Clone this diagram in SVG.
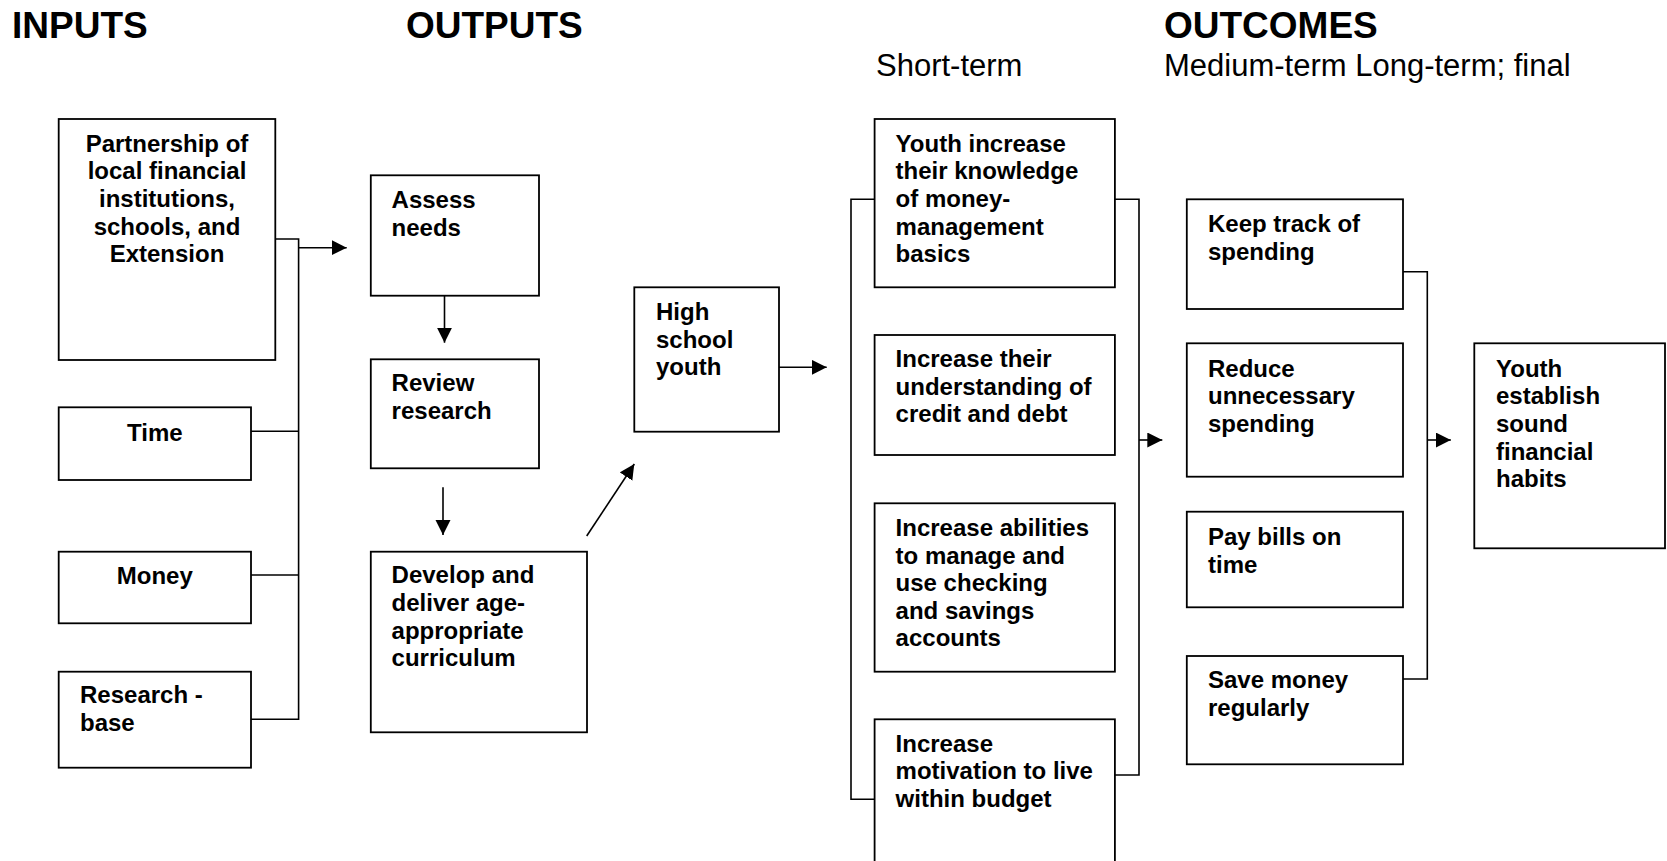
<svg xmlns="http://www.w3.org/2000/svg" width="1667" height="861" viewBox="0 0 1667 861">
<style>
.box{fill:#fff;stroke:#000;stroke-width:1.8}
.t{font-family:"Liberation Sans",Arial,sans-serif;font-weight:bold;font-size:24px;fill:#000}
.h{font-family:"Liberation Sans",Arial,sans-serif;font-weight:bold;font-size:37px;fill:#000}
.s{font-family:"Liberation Sans",Arial,sans-serif;font-size:31px;fill:#000}
.c{fill:none;stroke:#000;stroke-width:1.6}
.mid{text-anchor:middle}
</style>
<defs>
<marker id="ah" markerUnits="userSpaceOnUse" markerWidth="16" markerHeight="16" refX="15" refY="7.5" orient="auto">
<path d="M0,0 L15,7.5 L0,15 Z" fill="#000"/>
</marker>
</defs>
<rect width="1667" height="861" fill="#fff"/>

<g id="headers">
<text class="h" x="12" y="38">INPUTS</text>
<text class="h" x="406" y="38">OUTPUTS</text>
<text class="h" x="1164" y="38">OUTCOMES</text>
<text class="s" x="876" y="76">Short-term</text>
<text class="s" x="1164" y="76">Medium-term Long-term; final</text>
</g>

<g id="connectors">
<path class="c" d="M275.3,239 H298.6 V719.3 H251"/>
<path class="c" d="M251,431.3 H298.6"/>
<path class="c" d="M251,575 H298.6"/>
<path class="c" d="M298.6,247.7 H346.7" marker-end="url(#ah)"/>
<path class="c" d="M444.5,295.7 V342.7" marker-end="url(#ah)"/>
<path class="c" d="M443,487.3 V535" marker-end="url(#ah)"/>
<path class="c" d="M586.7,536 L634.3,464" marker-end="url(#ah)"/>
<path class="c" d="M779,367.3 H826.7" marker-end="url(#ah)"/>
<path class="c" d="M874.6,199.3 H851 V799.3 H875"/>
<path class="c" d="M1114.9,199.3 H1139 V775 H1115"/>
<path class="c" d="M1139,440 H1162.3" marker-end="url(#ah)"/>
<path class="c" d="M1403,271.7 H1427.3 V679 H1403"/>
<path class="c" d="M1427.3,440 H1450.8" marker-end="url(#ah)"/>
</g>

<g id="n-partnership">
<rect class="box" x="58.7" y="119" width="216.6" height="241"/>
<text class="t mid" x="167" y="151.7">Partnership of</text>
<text class="t mid" x="167" y="179.3">local financial</text>
<text class="t mid" x="167" y="206.9">institutions,</text>
<text class="t mid" x="167" y="234.5">schools, and</text>
<text class="t mid" x="167" y="262.1">Extension</text>
</g>
<g id="n-time">
<rect class="box" x="58.7" y="407.3" width="192.3" height="72.7"/>
<text class="t mid" x="154.8" y="440.7">Time</text>
</g>
<g id="n-money">
<rect class="box" x="58.7" y="551.7" width="192.3" height="71.6"/>
<text class="t mid" x="154.8" y="584">Money</text>
</g>
<g id="n-research-base">
<rect class="box" x="58.7" y="671.7" width="192.3" height="96"/>
<text class="t" x="80" y="703.3">Research -</text>
<text class="t" x="80" y="731.3">base</text>
</g>

<g id="n-assess">
<rect class="box" x="370.8" y="175.3" width="168.2" height="120.4"/>
<text class="t" x="391.6" y="208.3">Assess</text>
<text class="t" x="391.6" y="236">needs</text>
</g>
<g id="n-review">
<rect class="box" x="370.8" y="359.3" width="168.2" height="109"/>
<text class="t" x="391.6" y="390.7">Review</text>
<text class="t" x="391.6" y="418.5">research</text>
</g>
<g id="n-develop">
<rect class="box" x="370.8" y="551.7" width="216.2" height="180.6"/>
<text class="t" x="391.6" y="583.3">Develop and</text>
<text class="t" x="391.6" y="611">deliver age-</text>
<text class="t" x="391.6" y="638.7">appropriate</text>
<text class="t" x="391.6" y="666.4">curriculum</text>
</g>

<g id="n-highschool">
<rect class="box" x="634.3" y="287.3" width="144.7" height="144.4"/>
<text class="t" x="656" y="320">High</text>
<text class="t" x="656" y="347.6">school</text>
<text class="t" x="656" y="375.2">youth</text>
</g>

<g id="n-knowledge">
<rect class="box" x="874.6" y="119" width="240.3" height="168.3"/>
<text class="t" x="895.6" y="151.7">Youth increase</text>
<text class="t" x="895.6" y="179.3">their knowledge</text>
<text class="t" x="895.6" y="206.9">of money-</text>
<text class="t" x="895.6" y="234.5">management</text>
<text class="t" x="895.6" y="262.1">basics</text>
</g>
<g id="n-credit">
<rect class="box" x="874.6" y="335" width="240.3" height="120"/>
<text class="t" x="895.6" y="367">Increase their</text>
<text class="t" x="895.6" y="394.6">understanding of</text>
<text class="t" x="895.6" y="422.2">credit and debt</text>
</g>
<g id="n-accounts">
<rect class="box" x="874.6" y="503.3" width="240.3" height="168.4"/>
<text class="t" x="895.6" y="536">Increase abilities</text>
<text class="t" x="895.6" y="563.6">to manage and</text>
<text class="t" x="895.6" y="591.2">use checking</text>
<text class="t" x="895.6" y="618.8">and savings</text>
<text class="t" x="895.6" y="646.4">accounts</text>
</g>
<g id="n-motivation">
<rect class="box" x="874.6" y="719.3" width="240.3" height="160"/>
<text class="t" x="895.6" y="751.7">Increase</text>
<text class="t" x="895.6" y="779.3">motivation to live</text>
<text class="t" x="895.6" y="806.9">within budget</text>
</g>

<g id="n-track">
<rect class="box" x="1186.8" y="199.3" width="216.2" height="109.7"/>
<text class="t" x="1208" y="232.3">Keep track of</text>
<text class="t" x="1208" y="260">spending</text>
</g>
<g id="n-reduce">
<rect class="box" x="1186.8" y="343.3" width="216.2" height="133.4"/>
<text class="t" x="1208" y="376.7">Reduce</text>
<text class="t" x="1208" y="404.3">unnecessary</text>
<text class="t" x="1208" y="431.9">spending</text>
</g>
<g id="n-bills">
<rect class="box" x="1186.8" y="511.7" width="216.2" height="95.6"/>
<text class="t" x="1208" y="545">Pay bills on</text>
<text class="t" x="1208" y="572.6">time</text>
</g>
<g id="n-save">
<rect class="box" x="1186.8" y="656" width="216.2" height="108.3"/>
<text class="t" x="1208" y="688.3">Save money</text>
<text class="t" x="1208" y="716.3">regularly</text>
</g>

<g id="n-habits">
<rect class="box" x="1474.3" y="343.3" width="190.7" height="205"/>
<text class="t" x="1496" y="376.7">Youth</text>
<text class="t" x="1496" y="404.3">establish</text>
<text class="t" x="1496" y="431.9">sound</text>
<text class="t" x="1496" y="459.5">financial</text>
<text class="t" x="1496" y="487.1">habits</text>
</g>
</svg>
